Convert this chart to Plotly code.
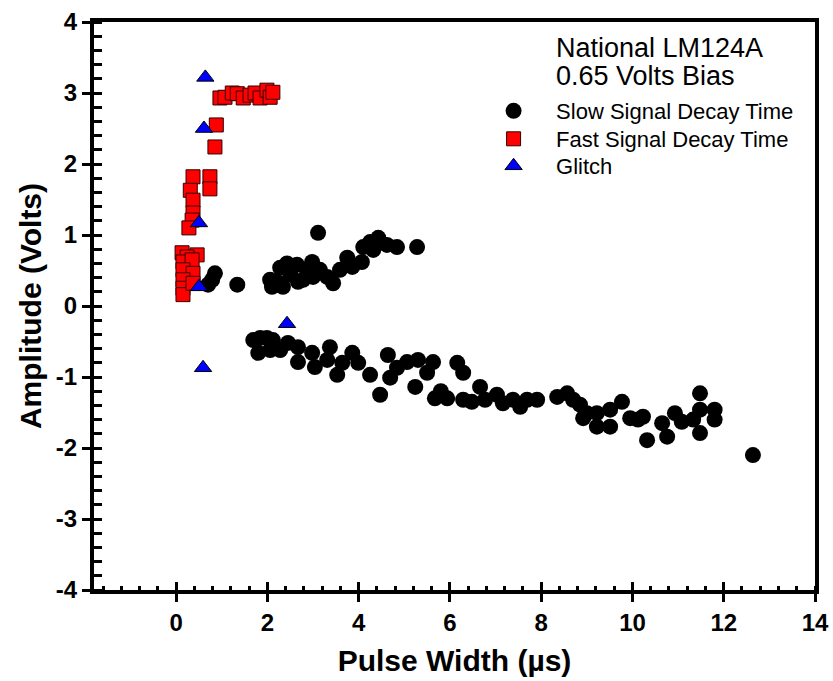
import plotly.graph_objects as go

# Slow Signal Decay Time (black circles)
slow_x = [0.70, 0.79, 0.85, 1.34, 2.06, 2.10, 2.21, 2.28, 2.34, 2.43, 2.50, 2.65, 2.67, 2.78, 2.87,
          2.98, 3.00, 3.11, 3.15, 3.31, 3.44, 3.59, 3.75, 3.86, 4.07, 4.10, 4.25, 4.32, 4.43, 4.62,
          4.84, 5.28,
          1.69, 1.84, 1.99, 2.12, 1.80, 2.06, 2.28, 2.45, 2.67, 2.67, 2.98, 3.04, 3.37, 3.31, 3.53,
          3.64, 3.86, 3.99, 4.25, 4.47, 4.64, 4.69, 4.84, 5.06, 5.30, 5.24, 5.50, 5.63, 5.67, 6.16,
          6.29, 5.80, 5.94, 6.29, 6.48, 6.66, 6.77, 7.03, 7.16, 7.38, 7.54, 7.69, 7.91, 8.35, 8.57,
          8.70, 8.85, 8.92, 9.00, 9.22, 9.22, 9.51, 9.51, 9.77, 9.95, 10.12, 10.23, 10.32, 10.65,
          10.76, 10.93, 11.08, 11.33, 11.48, 11.48, 11.48, 11.80, 11.80, 12.64]
slow_y = [0.30, 0.37, 0.46, 0.30, 0.37, 0.27, 0.34, 0.54, 0.27, 0.60, 0.44, 0.58, 0.34, 0.37, 0.51,
          0.62, 0.41, 1.03, 0.51, 0.41, 0.32, 0.51, 0.68, 0.55, 0.62, 0.83, 0.90, 0.79, 0.96, 0.86,
          0.83, 0.83,
          -0.48, -0.45, -0.45, -0.48, -0.66, -0.62, -0.62, -0.52, -0.58, -0.79, -0.66, -0.86, -0.58,
          -0.76, -0.97, -0.80, -0.66, -0.80, -0.97, -1.25, -0.69, -1.01, -0.87, -0.79, -0.76, -1.14,
          -0.94, -0.79, -1.30, -0.80, -0.94, -1.20, -1.30, -1.32, -1.35, -1.14, -1.32, -1.25, -1.37,
          -1.32, -1.42, -1.32, -1.32, -1.28, -1.23, -1.32, -1.39, -1.58, -1.51, -1.51, -1.70, -1.46,
          -1.70, -1.35, -1.58, -1.60, -1.56, -1.89, -1.65, -1.84, -1.51, -1.63, -1.60, -1.23, -1.46,
          -1.79, -1.46, -1.60, -2.10]

# Fast Signal Decay Time (red squares)
fast_x = [0.96, 1.07, 1.23, 1.34, 1.47, 1.62, 1.73, 1.84, 1.99, 2.06, 2.12, 0.88, 0.85, 0.37, 0.74,
          0.74, 0.31, 0.37, 0.37, 0.35, 0.28, 0.13, 0.46, 0.24, 0.15, 0.35, 0.15, 0.37, 0.15, 0.15,
          0.15, 0.37]
fast_y = [2.93, 2.94, 3.00, 2.99, 2.93, 2.97, 3.00, 2.93, 3.04, 2.94, 3.01, 2.55, 2.24, 1.82, 1.82,
          1.65, 1.63, 1.49, 1.31, 1.21, 1.10, 0.75, 0.72, 0.69, 0.62, 0.65, 0.51, 0.46, 0.37, 0.25,
          0.16, 0.32]

# Glitch (blue triangles)
glitch_x = [0.64, 0.61, 0.50, 0.50, 2.43, 0.59]
glitch_y = [3.22, 2.50, 1.17, 0.27, -0.25, -0.87]

x_ticks = [0, 2, 4, 6, 8, 10, 12, 14]
x_ticktext = ["<b>%d</b>" % v for v in x_ticks]
y_ticks = [-4, -3, -2, -1, 0, 1, 2, 3, 4]
y_ticktext = ["<b>%d</b>" % v for v in y_ticks]

FONT = "Liberation Sans, Arial, sans-serif"

fig = go.Figure()
fig.add_trace(go.Scatter(x=slow_x, y=slow_y, mode="markers", name="Slow Signal Decay Time",
                         legend="legend",
                         marker=dict(symbol="circle", size=16, color="black",
                                     line=dict(width=0))))
fig.add_trace(go.Scatter(x=fast_x, y=fast_y, mode="markers", name="Fast Signal Decay Time",
                         legend="legend2",
                         marker=dict(symbol="square", size=14, color="#ff0000",
                                     line=dict(width=1, color="#330000"))))
fig.add_trace(go.Scatter(x=glitch_x, y=glitch_y, mode="markers", name="Glitch",
                         legend="legend3",
                         marker=dict(symbol="triangle-up", size=15, color="#0000ff",
                                     line=dict(width=1, color="black"))))
# invisible trace to hold the overlay axis (inside major ticks on x)
fig.add_trace(go.Scatter(x=[None], y=[None], xaxis="x2", showlegend=False, hoverinfo="skip"))

PLOT_TOP, PLOT_H = 22, 568


def ypaper(py):
    return 1 - (py - PLOT_TOP) / PLOT_H


LEG_X = 0.523


def leg(py):
    return dict(x=LEG_X, y=ypaper(py), xanchor="left", yanchor="middle",
                bgcolor="rgba(0,0,0,0)", font=dict(size=22, family=FONT), itemwidth=75)


fig.update_layout(
    width=833, height=681,
    margin=dict(l=94, r=18, t=22, b=91),
    paper_bgcolor="white", plot_bgcolor="white",
    font=dict(family=FONT, color="black"),
    xaxis=dict(range=[-1.8, 14], tickvals=x_ticks, ticktext=x_ticktext, ticks="outside",
               ticklen=8, tickwidth=2.5, automargin=False,
               tickcolor="black", showline=True, linewidth=4, linecolor="black", mirror=True,
               showgrid=False, zeroline=False,
               tickfont=dict(size=24, family=FONT),
               title=dict(text="<b>Pulse Width (µs)</b>", font=dict(size=30, family=FONT),
                          standoff=16),
               minor=dict(tick0=0, dtick=0.4, ticks="inside", ticklen=4, tickwidth=2.5,
                          tickcolor="black", showgrid=False)),
    xaxis2=dict(range=[-1.8, 14], overlaying="x", anchor="y", side="bottom",
                tickvals=x_ticks, ticks="inside", ticklen=8, tickwidth=2.5, tickcolor="black",
                showticklabels=False, showline=False, showgrid=False, zeroline=False,
                automargin=False),
    yaxis=dict(range=[-4, 4], tickvals=y_ticks, ticktext=y_ticktext, ticks="outside",
               ticklen=8, tickwidth=2.5, automargin=False,
               tickcolor="black", showline=True, linewidth=4, linecolor="black", mirror=True,
               showgrid=False, zeroline=False,
               tickfont=dict(size=24, family=FONT),
               title=dict(text="<b>Amplitude (Volts)</b>", font=dict(size=30, family=FONT),
                          standoff=6),
               minor=dict(tick0=0, dtick=0.2, ticks="inside", ticklen=8, tickwidth=2.5,
                          tickcolor="black", showgrid=False)),
    legend=leg(111),
    legend2=leg(139),
    legend3=leg(166),
    showlegend=True,
    annotations=[
        dict(text="National LM124A", xref="paper", yref="paper",
             x=0.638, y=ypaper(48), xanchor="left", yanchor="middle",
             showarrow=False, font=dict(size=27, family=FONT)),
        dict(text="0.65 Volts Bias", xref="paper", yref="paper",
             x=0.638, y=ypaper(76), xanchor="left", yanchor="middle",
             showarrow=False, font=dict(size=27, family=FONT)),
    ],
)

fig.write_html("out.html")
